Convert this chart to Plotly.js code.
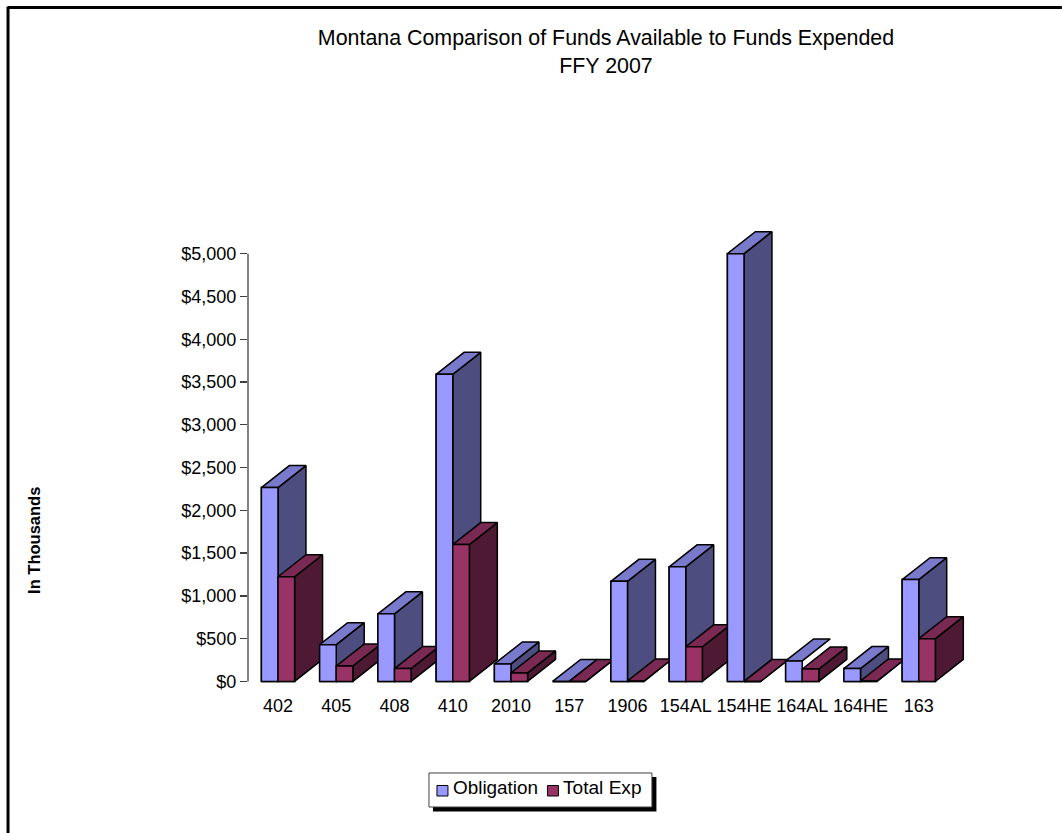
<!DOCTYPE html>
<html>
<head>
<meta charset="utf-8">
<script src="https://cdn.plot.ly/plotly-3.0.1.min.js"></script>
<style>html,body{margin:0;padding:0;background:#fff;overflow:hidden}#chart{width:1062px;height:833px}</style>
</head>
<body>
<div id="chart"></div>
<script>
var categories = ['402','405','408','410','2010','157','1906','154AL','154HE','164AL','164HE','163'];
var obligation = [2266,430,790,3590,205,0,1170,1340,5000,240,150,1190];
var totalExp   = [1224,180,150,1600,100,0,5,405,0,145,5,500];
var yTicks = [0,500,1000,1500,2000,2500,3000,3500,4000,4500,5000];
var yTickLabels = ['$0','$500','$1,000','$1,500','$2,000','$2,500','$3,000','$3,500','$4,000','$4,500','$5,000'];
var seriesNames = ['Obligation','Total Exp'];
var sidelessObligation = ['164AL'];

var W = 1062, H = 833;
var catPx = 58.26, unitPx = 427.5/5000;
var xRange = [-0.515, 12], yRange = [-30, 5300];
var M = {l:248, t:681.5 - yRange[1]*unitPx, b:833 - (681.5 - yRange[0]*unitPx), pad:0};
M.r = W - M.l - (xRange[1]-xRange[0])*catPx;
var plotW = W - M.l - M.r, plotH = H - M.t - M.b;
function px(x){ return (x - M.l) / plotW; }
function py(y){ return 1 - (y - M.t) / plotH; }

var barW = 0.285, depthX = 0.48, depthY = 257;
var edge = {color:'#000', width:1.5};
var obligationColors = {front:'#9999FF', side:'#4D4D80', top:'#7A7ACC'};
var expColors = {front:'#993366', side:'#4D1933', top:'#7A2952'};
var idx = categories.map(function(_, i){ return i; });

function poly(xs, ys, fill){
  return {type:'scatter', mode:'lines', x:xs.concat(xs[0]), y:ys.concat(ys[0]), fill:'toself',
    fillcolor:fill, line:{color:edge.color, width:edge.width, shape:'linear'}, showlegend:false,
    hoverinfo:'skip'};
}
function box(v, x0, colors, sideless){
  var x1 = x0 + barW, out = [];
  if(!sideless) out.push(poly([x1, x1+depthX, x1+depthX, x1],[0, depthY, v+depthY, v], colors.side));
  out.push(poly([x0, x0+depthX, x1+depthX, x1],[v, v+depthY, v+depthY, v], colors.top));
  out.push(poly([x0, x1, x1, x0],[0, 0, v, v], colors.front));
  return out;
}

var traces = [
  {type:'bar', name:seriesNames[0], x:idx, y:obligation, width:barW, offset:-barW, showlegend:false,
   marker:{color:obligationColors.front, line:{color:'#000', width:1.5}}},
  {type:'bar', name:seriesNames[1], x:idx, y:totalExp, width:barW, offset:0, showlegend:false,
   marker:{color:expColors.front, line:{color:'#000', width:1.5}}}
];
idx.forEach(function(i){
  traces = traces.concat(box(obligation[i], i - barW, obligationColors, sidelessObligation.indexOf(categories[i]) >= 0));
  traces = traces.concat(box(totalExp[i], i, expColors, false));
});

function pxRect(x0, x1, y0, y1, fill, line){
  return {type:'rect', xref:'paper', yref:'paper', x0:px(x0), x1:px(x1), y0:py(y0), y1:py(y1),
    fillcolor:fill, line:line || {width:0}};
}
var font = 'Liberation Sans, Arial, sans-serif';
function pxText(t, x, y, anchor, size, angle){
  return {text:t, xref:'paper', yref:'paper', x:px(x), y:py(y), xanchor:anchor, yanchor:'middle',
    showarrow:false, textangle:angle || 0, font:{family:font, size:size, color:'#000'}};
}
var layout = {
  width:W, height:H, margin:M, paper_bgcolor:'#fff', plot_bgcolor:'rgba(0,0,0,0)',
  font:{family:font, color:'#000', size:18},
  showlegend:false, barmode:'overlay', hovermode:false,
  title:{text:'Montana Comparison of Funds Available to Funds Expended<br>FFY 2007',
    font:{family:font, size:21.4, color:'#000'}, x:606/W, xanchor:'center', y:1-45/H, yanchor:'top'},
  xaxis:{range:xRange, tickmode:'array', tickvals:idx, ticktext:categories, tickangle:0,
    showgrid:false, zeroline:false, showline:false, ticks:'', ticklabelstandoff:9,
    tickfont:{family:font, size:18, color:'#000'}},
  yaxis:{range:yRange, tickmode:'array', tickvals:yTicks, ticktext:yTickLabels,
    showgrid:false, zeroline:false, showline:false,
    ticks:'outside', ticklen:7, tickcolor:'#404040', tickwidth:1.3,
    tickfont:{family:font, size:18, color:'#000'}},
  annotations:[
    pxText('<b>In Thousands</b>', 34, 541, 'center', 16.5, -90),
    pxText(seriesNames[0], 451.5, 788, 'left', 18.9),
    pxText(seriesNames[1], 561.5, 788, 'left', 19.1)
  ],
  shapes:[
    {type:'line', xref:'paper', yref:'paper', x0:px(8), x1:px(1062), y0:py(8), y1:py(8), line:{color:'#000', width:3}},
    {type:'line', xref:'paper', yref:'paper', x0:px(8), x1:px(8), y0:py(7), y1:py(833), line:{color:'#000', width:3}},
    {type:'line', xref:'paper', yref:'y', x0:0, x1:0, y0:0, y1:5000, line:{color:'#404040', width:1.3}},
    pxRect(433, 656.5, 777, 811.5, '#000'),
    pxRect(429, 652, 773, 807, '#fff', {color:'#404040', width:1}),
    pxRect(437, 448, 785.5, 796, obligationColors.front, {color:'#000', width:1}),
    pxRect(547.5, 558.5, 785.5, 796, expColors.front, {color:'#000', width:1})
  ]
};
Plotly.newPlot('chart', traces, layout, {displayModeBar:false, staticPlot:true});
</script>
</body>
</html>
